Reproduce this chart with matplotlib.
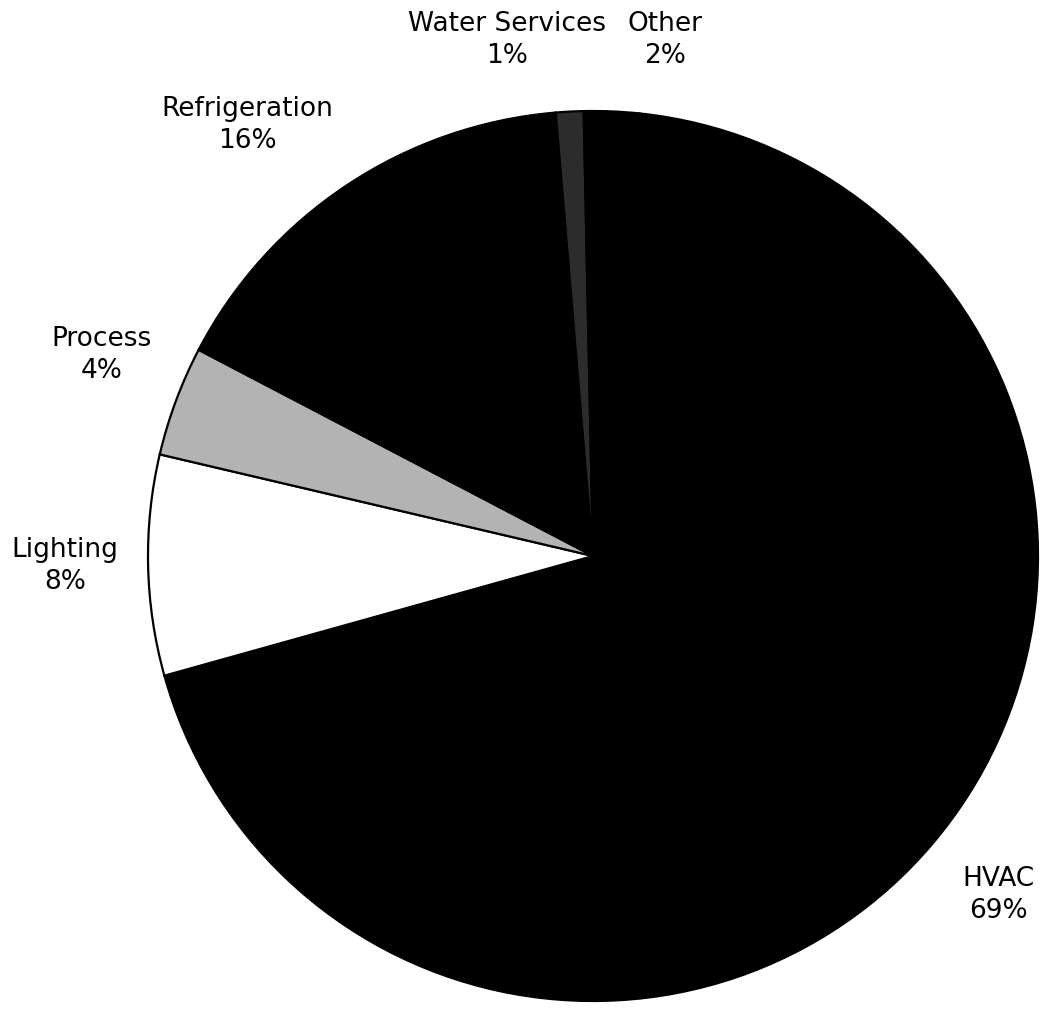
import matplotlib
matplotlib.use("Agg")
import matplotlib.pyplot as plt

# slice data, clockwise from the top
categories = ["HVAC", "Lighting", "Process", "Refrigeration", "Water Services", "Other"]
shares = [69, 8, 4, 16, 1, 2]
colors = ["#000000", "#ffffff", "#b3b3b3", "#000000", "#2c2c2c", "#000000"]

# label block centres in pixel coords (x right, y down)
label_xy = [(998, 895), (65, 566), (102, 355), (247, 125), (507, 40), (665, 40)]

W, H = 1042, 1010
fig = plt.figure(figsize=(W / 100, H / 100), dpi=100)
ax = fig.add_axes([0, 0, 1, 1])

cx, cy, r = 593, H - 556, 445
ax.pie(shares, colors=colors, startangle=84, counterclock=False,
       center=(cx, cy), radius=r,
       wedgeprops=dict(edgecolor="black", linewidth=1.6))

for name, val, (px, py) in zip(categories, shares, label_xy):
    ax.text(px, H - py, f"{name}\n{val}%", ha="center", va="center",
            fontsize=19, family="DejaVu Sans", linespacing=1.28)

ax.set_xlim(0, W)
ax.set_ylim(0, H)
ax.set_aspect("equal")
ax.axis("off")

fig.savefig("out.png", dpi=100, facecolor="white")
